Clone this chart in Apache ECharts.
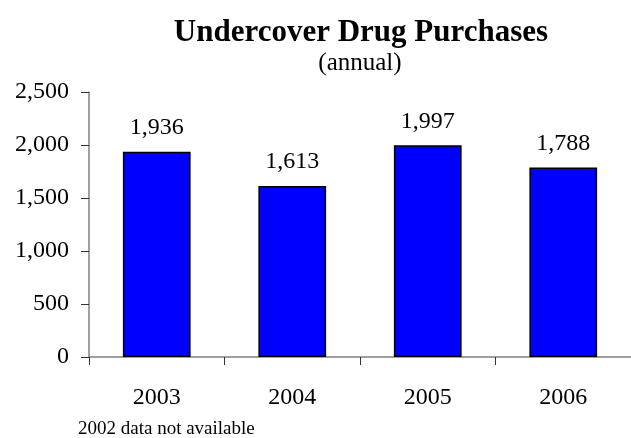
<!DOCTYPE html>
<html>
<head>
<meta charset="utf-8">
<script src="https://cdn.jsdelivr.net/npm/echarts@6/dist/echarts.min.js"></script>
<style>
  html, body { margin: 0; padding: 0; background: #fff; }
  #chart { width: 631px; height: 438px; }
</style>
</head>
<body>
<div id="chart"></div>
<script>
// Datos del gráfico
const years = ["2003", "2004", "2005", "2006"];
const purchases = [1936, 1613, 1997, 1788];
const yTicks = [0, 500, 1000, 1500, 2000, 2500];

const serif = "'Liberation Serif', 'DejaVu Serif', serif";
const fmt = (v) => v.toLocaleString("en-US");

const chart = echarts.init(document.getElementById("chart"));
const option = {
  animation: false,
  title: [
    {
      text: "Undercover Drug Purchases",
      left: 356,
      top: 12,
      textAlign: "center",
      textStyle: { fontFamily: serif, fontSize: 31, fontWeight: "bold", color: "#000" },
    },
    {
      text: "(annual)",
      left: 355,
      top: 46,
      textAlign: "center",
      textStyle: { fontFamily: serif, fontSize: 25, fontWeight: "normal", color: "#000" },
    },
    {
      text: "2002 data not available",
      left: 73,
      top: 415,
      textStyle: { fontFamily: serif, fontSize: 19, fontWeight: "normal", color: "#000" },
    },
  ],
  grid: { left: 89, right: -3, top: 92, bottom: 81, containLabel: false },
  xAxis: {
    type: "category",
    data: years,
    axisLine: { lineStyle: { color: "#808080", width: 1.5 } },
    axisTick: { show: true, length: 8, lineStyle: { color: "#333" } },
    axisLabel: { margin: 29, fontFamily: serif, fontSize: 24, color: "#000" },
  },
  yAxis: {
    type: "value",
    min: yTicks[0],
    max: yTicks[yTicks.length - 1],
    interval: 500,
    splitLine: { show: false },
    axisLine: { show: true, lineStyle: { color: "#808080", width: 1.5 } },
    axisTick: { show: true, length: 8, lineStyle: { color: "#333" } },
    axisLabel: { margin: 20, fontFamily: serif, fontSize: 24, color: "#000", formatter: fmt },
  },
  series: [
    {
      type: "bar",
      data: purchases,
      barWidth: "50%",
      itemStyle: { color: "#0000FF", borderColor: "#000", borderWidth: 1.5 },
      label: {
        show: true,
        position: "top",
        distance: 12,
        fontFamily: serif,
        fontSize: 24,
        color: "#000",
        formatter: (p) => fmt(p.value),
      },
    },
  ],
};
chart.setOption(option);
</script>
</body>
</html>
